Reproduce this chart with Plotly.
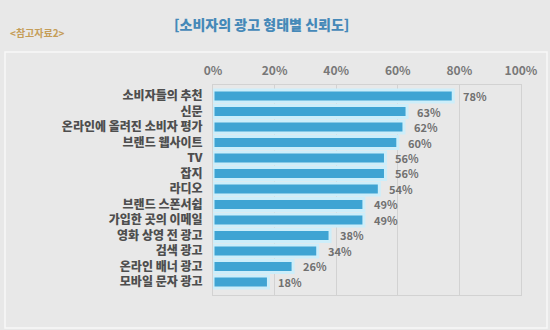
import plotly.graph_objects as go

# Survey: consumer trust by advertising type (%)
categories = [
    "소비자들의 추천", "신문", "온라인에 올려진 소비자 평가", "브랜드 웹사이트",
    "TV", "잡지", "라디오", "브랜드 스폰서쉽", "가입한 곳의 이메일",
    "영화 상영 전 광고", "검색 광고", "온라인 배너 광고", "모바일 문자 광고",
]
values = [78, 63, 62, 60, 56, 56, 54, 49, 49, 38, 34, 26, 18]
tick_vals = [0, 20, 40, 60, 80, 100]
tick_text = ["0%", "20%", "40%", "60%", "80%", "100%"]

KFONT = "Noto Sans CJK KR"

fig = go.Figure()
fig.add_trace(go.Bar(
    y=categories, x=values, orientation="h",
    width=0.78,
    marker=dict(color="#3fa4d3", line=dict(color="#cdeefa", width=3)),
    hoverinfo="skip",
))

# value labels at the end of each bar
for c, v in zip(categories, values):
    fig.add_annotation(x=v, y=c, text=f"<b>{v}%</b>", showarrow=False,
                       xanchor="left", xshift=8, yshift=0,
                       font=dict(family=KFONT, size=11, color="#707070"))

# outer panel
fig.add_shape(type="rect", xref="paper", yref="paper",
              x0=-208/308, x1=334/308, y0=-33/210, y1=243/210,
              line=dict(color="#f8f8f8", width=1.5), fillcolor="rgba(0,0,0,0)",
              layer="below")

fig.add_annotation(xref="paper", yref="paper", x=(261.5-213)/308, y=(330-24-35)/210,
                   text="[소비자의 광고 형태별 신뢰도]", showarrow=False,
                   xanchor="center", yanchor="middle",
                   font=dict(family=KFONT, size=14, color="#4589b8", weight=900))
fig.add_annotation(xref="paper", yref="paper", x=(8-213)/308, y=(330-32-35)/210,
                   text="<b>&lt;참고자료2&gt;</b>", showarrow=False,
                   xanchor="left", yanchor="middle",
                   font=dict(family=KFONT, size=10, color="#c59d58"))

fig.update_layout(
    width=550, height=330,
    margin=dict(l=213, r=29, t=85, b=35),
    paper_bgcolor="#e8e8e8", plot_bgcolor="#e8e8e8",
    showlegend=False,
    xaxis=dict(range=[0, 100], side="top", tickvals=tick_vals, ticktext=tick_text,
               showgrid=True, gridcolor="#d2d2d2", gridwidth=1,
               zeroline=False, showline=True, linecolor="#d2d2d2", mirror=True,
               ticks="", ticklabelstandoff=4,
               tickfont=dict(family=KFONT, size=12, color="#787878", weight="bold")),
    yaxis=dict(range=[12.84, -0.71], type="category",
               showline=True, linecolor="#d2d2d2", mirror=True,
               ticks="", ticklabelstandoff=7, showgrid=False,
               tickfont=dict(family=KFONT, size=12, color="#4e4e4e", weight=900)),
)

fig.write_html("out.html")
